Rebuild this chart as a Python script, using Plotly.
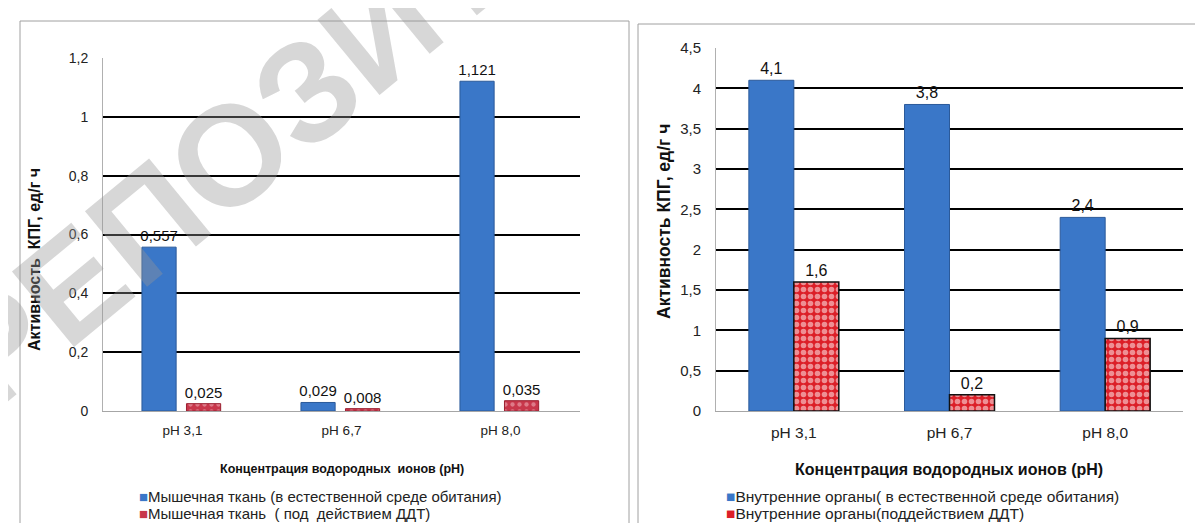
import plotly.graph_objects as go

categories = ["pH 3,1", "pH 6,7", "pH 8,0"]

muscle_natural = [0.557, 0.029, 1.121]
muscle_ddt = [0.025, 0.008, 0.035]
organs_natural = [4.1, 3.8, 2.4]
organs_ddt = [1.6, 0.2, 0.9]

left_names = ["Мышечная ткань (в естественной среде обитания)",
              "Мышечная ткань  ( под  действием ДДТ)"]
right_names = ["Внутренние органы( в естественной среде обитания)",
               "Внутренние органы(поддействием ДДТ)"]

y_title = "Активность  КПГ, ед/г ч"
y_title_r = "Активность КПГ, ед/г ч"
x_title = "Концентрация водородных  ионов (pH)"
x_title_r = "Концентрация водородных ионов (pH)"

W, H = 1203, 523
FONT = "Liberation Sans, Arial, sans-serif"
BLUE = "#3a77c8"
BLUE_LINE = "#2b5a9a"
RED = "#dc1f28"
CRIMSON = "#c8374b"


def fmt(v):
    return str(v).replace(".", ",")


def px_x(p):
    return p / W


def px_y(p):
    return 1 - p / H


fig = go.Figure()

# Left chart
fig.add_trace(go.Bar(
    x=categories, y=muscle_natural, name=left_names[0],
    text=[fmt(v) for v in muscle_natural], textposition="outside",
    constraintext="none",
    textfont=dict(size=15, color="#111", family=FONT),
    marker=dict(color=BLUE, line=dict(color=BLUE_LINE, width=1)),
    width=0.215, offset=-0.255, cliponaxis=False,
    xaxis="x", yaxis="y", showlegend=False))
fig.add_trace(go.Bar(
    x=categories, y=muscle_ddt, name=left_names[1],
    text=[fmt(v) for v in muscle_ddt], textposition="outside",
    constraintext="none",
    textfont=dict(size=15, color="#111", family=FONT),
    marker=dict(color=CRIMSON, line=dict(color="#9a2030", width=1),
                pattern=dict(shape=".", fgcolor="#f3c0c8", bgcolor=CRIMSON,
                             size=7, solidity=0.3)),
    width=0.215, offset=0.025, cliponaxis=False,
    xaxis="x", yaxis="y", showlegend=False))

# Right chart
fig.add_trace(go.Bar(
    x=categories, y=organs_natural, name=right_names[0],
    text=[fmt(v) for v in organs_natural], textposition="outside",
    constraintext="none",
    textfont=dict(size=16, color="#111", family=FONT),
    marker=dict(color=BLUE, line=dict(color=BLUE_LINE, width=1)),
    width=0.289, offset=-0.289, cliponaxis=False,
    xaxis="x2", yaxis="y2", showlegend=False))
fig.add_trace(go.Bar(
    x=categories, y=organs_ddt, name=right_names[1],
    text=[fmt(v) for v in organs_ddt], textposition="outside",
    constraintext="none",
    textfont=dict(size=16, color="#111", family=FONT),
    marker=dict(color=RED, line=dict(color="#111", width=1.5),
                pattern=dict(shape=".", fgcolor="#ffffff", bgcolor=RED,
                             size=7, solidity=0.5)),
    width=0.289, offset=0.0, cliponaxis=False,
    xaxis="x2", yaxis="y2", showlegend=False))

xaxis_common = dict(showgrid=False, ticks="", showline=True, linecolor="#a6a6a6",
                    linewidth=1, ticklabelstandoff=7)
yaxis_common = dict(showgrid=True, gridcolor="#000", gridwidth=1.5, ticks="",
                    zeroline=False, showline=True, linecolor="#b0b0b0", linewidth=1,
                    ticklabelstandoff=11)

fig.update_layout(
    width=W, height=H,
    margin=dict(l=0, r=0, t=0, b=0, autoexpand=False),
    paper_bgcolor="white", plot_bgcolor="white",
    separators=", ",
    barmode="overlay",
    showlegend=False,
    font=dict(family=FONT, size=14, color="#222"),
    xaxis=dict(domain=[px_x(95), px_x(572)], anchor="y",
               tickfont=dict(size=13.5, color="#222", family=FONT), **xaxis_common),
    yaxis=dict(domain=[px_y(403), px_y(50)], anchor="x", range=[0, 1.2],
               dtick=0.2, tickfont=dict(size=14, color="#222", family=FONT),
               **yaxis_common),
    xaxis2=dict(domain=[px_x(708), px_x(1175)], anchor="y2",
                tickfont=dict(size=15.5, color="#222", family=FONT), **xaxis_common),
    yaxis2=dict(domain=[px_y(403), px_y(40)], anchor="x2", range=[0, 4.5],
                dtick=0.5, tickfont=dict(size=15, color="#222", family=FONT),
                **yaxis_common),
)

# Chart frames
fig.add_shape(type="rect", xref="paper", yref="paper",
              x0=px_x(12), x1=px_x(621), y0=-0.2, y1=px_y(13),
              line=dict(color="#a0a0a0", width=1), layer="below")
fig.add_shape(type="rect", xref="paper", yref="paper",
              x0=px_x(630), x1=1.2, y0=-0.2, y1=px_y(16),
              line=dict(color="#a0a0a0", width=1), layer="below")

# Axis titles
fig.add_annotation(text=f"<b>{x_title}</b>", xref="paper", yref="paper",
                   x=px_x(334), y=px_y(461), showarrow=False,
                   xanchor="center", yanchor="middle",
                   font=dict(size=12.5, color="#111", family=FONT))
fig.add_annotation(text=f"<b>{x_title_r}</b>", xref="paper", yref="paper",
                   x=px_x(941), y=px_y(461), showarrow=False,
                   xanchor="center", yanchor="middle",
                   font=dict(size=16, color="#111", family=FONT))
fig.add_annotation(text=f"<b>{y_title}</b>", xref="paper", yref="paper",
                   x=px_x(27), y=px_y(252), showarrow=False, textangle=-90,
                   xanchor="center", yanchor="middle",
                   font=dict(size=16, color="#111", family=FONT))
fig.add_annotation(text=f"<b>{y_title_r}</b>", xref="paper", yref="paper",
                   x=px_x(656), y=px_y(214), showarrow=False, textangle=-90,
                   xanchor="center", yanchor="middle",
                   font=dict(size=17.5, color="#111", family=FONT))

# Legends (drawn as text entries with colour keys)
legend_rows = [
    (129, 488, BLUE, left_names[0], 15),
    (129, 505, CRIMSON, left_names[1], 15),
    (716, 488, BLUE, right_names[0], 15.5),
    (716, 505, RED, right_names[1], 15.5),
]
for lx, ly, col, name, fs in legend_rows:
    fig.add_annotation(
        text=f"<span style='color:{col}'>■</span>{name}",
        xref="paper", yref="paper", x=px_x(lx), y=px_y(ly),
        xanchor="left", yanchor="middle", showarrow=False,
        font=dict(size=fs, color="#222", family=FONT))

# Watermark
fig.add_annotation(text="<b>РЕПОЗИТОРИЙ</b>", xref="paper", yref="paper",
                   x=px_x(372), y=px_y(22), showarrow=False, textangle=-39.5,
                   xanchor="center", yanchor="middle",
                   font=dict(size=142, color="rgba(150,150,150,0.38)", family=FONT))

fig.write_html("out.html")
